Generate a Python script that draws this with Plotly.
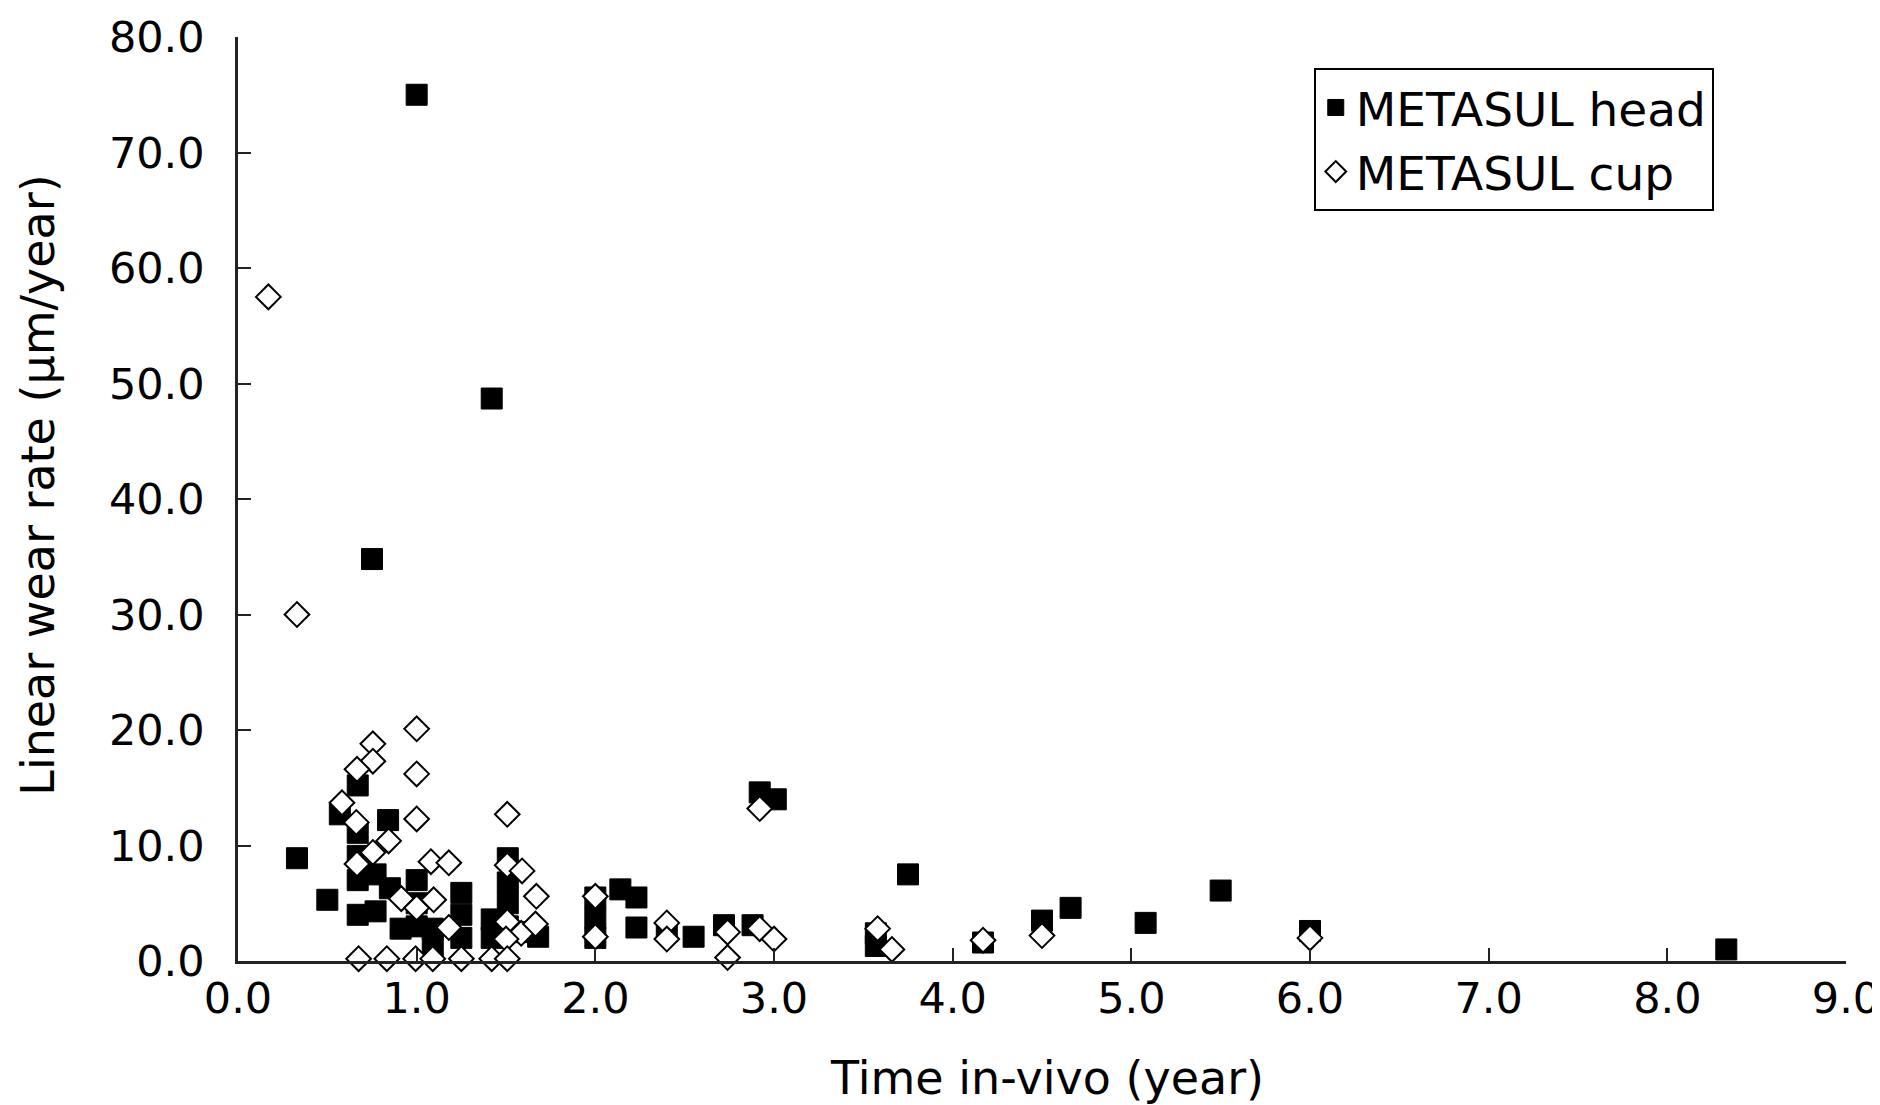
import plotly.graph_objects as go

# METASUL head (filled squares): time in vivo (year), linear wear rate (um/year)
head_time = [1.00, 1.42, 0.75, 0.33, 0.50, 0.67, 0.57, 0.84, 0.67, 0.67, 0.67, 0.67,
             0.77, 0.77, 0.85, 0.91, 1.00, 1.00, 1.00, 1.09, 1.09, 1.25, 1.25, 1.25,
             1.42, 1.42, 1.51, 1.51, 1.51, 1.51, 1.59, 1.68, 2.00, 2.00, 2.00, 2.14,
             2.23, 2.23, 2.40, 2.55, 2.72, 2.88, 2.92, 3.01, 3.57, 3.57, 3.75, 4.17,
             4.50, 4.66, 5.08, 5.50, 6.00, 8.33]
head_wear = [75.0, 48.7, 34.8, 8.9, 5.3, 15.2, 12.7, 12.2, 11.1, 9.1, 7.0, 4.0,
             7.5, 4.3, 6.3, 2.8, 7.0, 5.0, 3.0, 2.8, 1.3, 5.9, 4.0, 2.0,
             3.6, 2.0, 8.9, 6.8, 5.0, 3.0, 2.5, 2.1, 5.5, 3.7, 2.0, 6.2,
             5.5, 2.9, 2.6, 2.1, 3.1, 3.1, 14.6, 14.0, 2.4, 1.3, 7.5, 1.6,
             3.5, 4.6, 3.3, 6.1, 2.6, 1.0]

# METASUL cup (open diamonds)
cup_time = [0.17, 0.33, 1.00, 0.755, 0.755, 0.666, 1.00, 0.582, 1.00, 0.662, 1.507,
            0.843, 0.755, 0.666, 1.08, 1.18, 1.507, 1.59, 1.67, 0.914, 1.00, 1.095,
            1.18, 1.507, 1.585, 1.665, 1.50,
            0.675, 0.833, 0.994, 1.09, 1.25, 1.42, 1.507,
            2.00, 2.00, 2.40, 2.40, 2.74, 2.74, 2.92, 2.92, 3.00, 3.58, 3.66,
            4.17, 4.50, 6.00]
cup_wear = [57.5, 30.0, 20.1, 18.8, 17.3, 16.6, 16.2, 13.7, 12.3, 12.0, 12.7,
            10.4, 9.4, 8.4, 8.6, 8.5, 8.3, 7.8, 5.6, 5.4, 4.6, 5.3,
            2.9, 3.4, 2.4, 3.2, 1.9,
            0.2, 0.2, 0.2, 0.2, 0.2, 0.2, 0.2,
            5.6, 2.1, 3.3, 1.9, 2.5, 0.3, 13.2, 2.8, 1.9, 2.8, 1.0,
            1.8, 2.2, 2.0]

x_ticks = [0, 1, 2, 3, 4, 5, 6, 7, 8, 9]
y_ticks = [0, 10, 20, 30, 40, 50, 60, 70, 80]

FONT = "DejaVu Sans"

fig = go.Figure()
fig.add_trace(go.Scatter(
    x=head_time, y=head_wear, mode="markers", name="METASUL head",
    marker=dict(symbol="square", size=21, color="black",
                line=dict(color="black", width=1)),
    cliponaxis=False,
))
fig.add_trace(go.Scatter(
    x=cup_time, y=cup_wear, mode="markers", name="METASUL cup",
    marker=dict(symbol="diamond", size=19, color="white",
                line=dict(color="black", width=2)),
    cliponaxis=False,
))

axis_common = dict(
    showline=True, linecolor="#222", linewidth=2.5,
    ticks="inside", ticklen=13, tickwidth=2, tickcolor="#222",
    showgrid=False, zeroline=False, tickformat=".1f",
    tickfont=dict(family=FONT, size=43, color="black"),
)

fig.update_layout(
    width=1880, height=1105,
    margin=dict(l=230, r=42, t=29, b=152, autoexpand=False),
    paper_bgcolor="white", plot_bgcolor="white",
    font=dict(family=FONT, color="black"),
    xaxis=dict(range=[0, 9], tickvals=x_ticks, ticklabelstandoff=-2, **axis_common),
    yaxis=dict(range=[0, 80], tickvals=y_ticks, ticklabelstandoff=22, **axis_common),
    showlegend=True,
    legend=dict(
        x=0.669, y=0.966, xanchor="left", yanchor="top",
        bgcolor="white", bordercolor="black", borderwidth=2,
        font=dict(family=FONT, size=47, color="black"),
        itemwidth=30, tracegroupgap=0,
    ),
    annotations=[
        dict(text="Time in-vivo (year)", x=0.503, y=-0.127, xref="paper", yref="paper",
             xanchor="center", yanchor="middle", showarrow=False,
             font=dict(family=FONT, size=46, color="black")),
        dict(text="Linear wear rate (µm/year)", x=-0.124, y=0.515, xref="paper", yref="paper",
             xanchor="center", yanchor="middle", showarrow=False, textangle=-90,
             font=dict(family=FONT, size=46, color="black")),
    ],
)

fig.write_html("out.html")
